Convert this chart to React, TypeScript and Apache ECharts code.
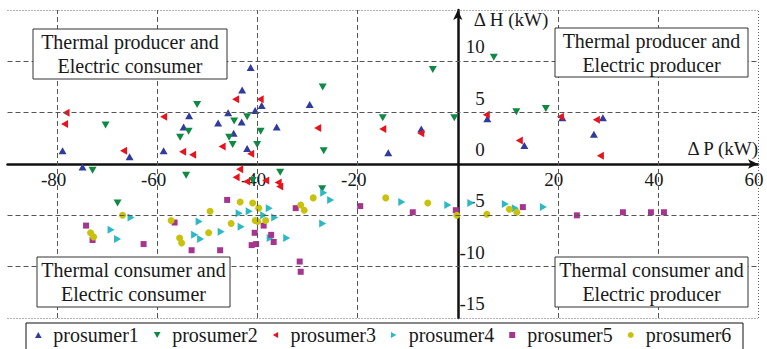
import React, { useEffect, useRef } from 'react';
import * as echarts from 'echarts';

const FONT = '"Liberation Serif", "Times New Roman", serif';
const TEXT_COLOR = '#1a1a1a';

const seriesNames = ['prosumer1', 'prosumer2', 'prosumer3', 'prosumer4', 'prosumer5', 'prosumer6'];

const prosumer1 = [
  [-79, 1.3], [-75, -0.3], [-65.6, 0.7], [-58.8, 1.3], [-54.8, 3.6], [-53.7, 4.7], [-47.9, 4.0], [-45.9, 5.0],
  [-44.8, 3.0], [-43.2, 4.1], [-43.1, 7.2], [-42.1, 1.5], [-41.4, 9.4], [-40.5, 5.2], [-39.2, 5.7], [-36.2, 3.6],
  [-29.6, 5.8], [-13.9, 1.1], [-7.3, 3.4], [5.9, 4.4], [13.3, 1.8], [20.9, 4.5], [27.2, 2.9], [29.0, 4.5],
];
const prosumer2 = [
  [-73, -0.6], [-70.4, 3.8], [-68, -3.8], [-55.5, 2.6], [-54.3, -1.1], [-53.8, 3.2], [-52.1, 5.8], [-45.7, 2.6],
  [-45.0, 1.9], [-44.7, 4.2], [-42.1, 4.6], [-41, -1.6], [-40.1, 1.9], [-39.4, 3.2], [-35.5, -0.8], [-27.1, -2.4],
  [-27.0, 7.5], [-26.8, 1.3], [-15.0, 4.5], [-5.0, 9.2], [-0.7, 4.5], [7.2, 10.4], [11.7, 5.1], [17.6, 5.4],
];
const prosumer3 = [
  [-78.6, 3.9], [-78.3, 5.0], [-66.8, 1.3], [-58.8, 4.6], [-55.0, 1.2], [-53.0, 0.9], [-47.1, 1.7], [-44.4, 6.3],
  [-44.3, -1.3], [-43.6, -0.5], [-42.2, -1.7], [-41.4, 1.0], [-39.5, 6.3], [-38.4, -1.6], [-35.9, -1.8], [-35.6, -2.2],
  [-28.0, 3.5], [-15.0, 3.4], [-7.4, 3.0], [5.7, 4.8], [12.3, 2.3], [20.5, 4.6], [27.7, 4.3], [28.5, 0.8],
];
const prosumer4 = [
  [-69.3, -6.4], [-68.0, -7.3], [-65.3, -5.2], [-52.6, -6.9], [-51.7, -5.6], [-51.4, -7.3], [-47.3, -6.6], [-43.7, -4.8],
  [-43.3, -6.1], [-41.7, -4.6], [-38.8, -5.0], [-37.7, -4.3], [-37.5, -7.2], [-36.6, -5.2], [-34.2, -7.2], [-27.0, -5.8],
  [-26.8, -2.8], [-25.4, -3.5], [-11.2, -3.7], [-2.0, -4.0], [2.6, -3.8], [9.5, -3.9], [11.5, -4.3], [17.1, -4.2],
];
const prosumer5 = [
  [-74.3, -6.0], [-73.0, -7.4], [-62.8, -7.8], [-56.6, -5.7], [-53.2, -8.4], [-47.5, -8.4], [-46.1, -3.5], [-41.2, -7.9],
  [-40.6, -6.7], [-40.3, -7.8], [-38.8, -6.0], [-37.3, -6.9], [-36.8, -7.6], [-32.4, -4.3], [-31.6, -9.5], [-31.4, -10.5],
  [-19.5, -4.1], [-9.0, -4.7], [-0.4, -4.5], [13.0, -4.2], [23.8, -5.0], [33.0, -4.7], [38.6, -4.7], [41.2, -4.7],
];
const prosumer6 = [
  [-73.4, -6.7], [-72.8, -7.1], [-67.0, -5.0], [-57.3, -5.5], [-55.6, -7.2], [-55.2, -7.7], [-49.8, -6.7], [-49.5, -4.6],
  [-45.3, -5.8], [-43.5, -3.7], [-41.0, -3.8], [-40.5, -5.5], [-40.0, -5.6], [-39.8, -4.3], [-38.4, -5.5], [-31.4, -4.0],
  [-30.7, -4.5], [-28.9, -3.3], [-14.4, -3.3], [-6.0, -3.8], [-0.2, -5.0], [5.8, -4.9], [10.3, -4.4], [11.8, -4.7],
];

const xMin = -90;
const xMax = 60;
const yMin = -15;
const yMax = 15;
const xGridValues = [-80, -60, -40, -20, 20, 40];
const yGridValues = [10, 5, -5, -10];

const quadrantTexts = [
  'Thermal producer and\nElectric consumer',
  'Thermal producer and\nElectric producer',
  'Thermal consumer and\nElectric consumer',
  'Thermal consumer and\nElectric producer',
];

const W = 767;
const H = 349;
const GRID = { left: 7.5, right: 9, top: 10, bottom: 31 };

export default function App() {
  const ref = useRef<HTMLDivElement>(null);

  useEffect(() => {
    if (!ref.current) return;
    const chart = echarts.init(ref.current, null, { renderer: 'svg' });

    const allData = [prosumer1, prosumer2, prosumer3, prosumer4, prosumer5, prosumer6];
    const symbols = [
      'path://M5,0L10,9L0,9Z',
      'path://M0,0L10,0L5,9Z',
      'path://M0,5L9,0L9,10Z',
      'path://M0,0L9,5L0,10Z',
      'path://M0,0L10,0L10,10L0,10Z',
      'circle',
    ];
    const sizes: any[] = [[8, 7], [8, 7], [7, 8], [7, 8], 6, 7];
    const colors = ['#2f3c9e', '#0f8a44', '#e8131d', '#2bb9c3', '#a5358f', '#c8c20c'];

    // place the axes through the origin (axis offsets from the grid edges)
    const gridW = W - GRID.left - GRID.right;
    const gridH = H - GRID.top - GRID.bottom;
    const yAxisOffset = -((0 - xMin) / (xMax - xMin)) * gridW;
    const xAxisOffset = -((0 - yMin) / (yMax - yMin)) * gridH;

    const boxes = [
      { x: 33, y: 29, w: 194, h: 50 },
      { x: 555, y: 28, w: 193, h: 49 },
      { x: 37, y: 257, w: 193, h: 50 },
      { x: 555, y: 257, w: 193, h: 50 },
    ];

    const gridLine = { color: '#555', width: 1, type: [5, 3] as any };
    const borderLine = { color: '#666', width: 1, type: [1, 2] as any };

    const option: any = {
      animation: false,
      backgroundColor: '#fff',
      textStyle: { fontFamily: FONT, color: TEXT_COLOR },
      grid: { ...GRID, containLabel: false },
      xAxis: {
        type: 'value',
        min: xMin,
        max: xMax,
        interval: 10,
        position: 'bottom',
        offset: xAxisOffset,
        axisLine: {
          onZero: false,
          lineStyle: { color: '#111', width: 2.5 },
          symbol: ['none', 'arrow'],
          symbolSize: [7, 10],
        },
        axisTick: { show: false },
        splitLine: { show: false },
        axisLabel: {
          formatter: (v: number) => (v % 20 === 0 && v !== 0 ? String(v) : ''),
          fontSize: 19,
          fontFamily: FONT,
          color: TEXT_COLOR,
          margin: 6,
          padding: [0, 8, 0, 0],
        },
        name: 'Δ P (kW)',
        nameLocation: 'end',
        nameGap: 0,
        nameTextStyle: {
          align: 'right',
          verticalAlign: 'bottom',
          fontSize: 19,
          fontFamily: FONT,
          color: TEXT_COLOR,
          padding: [0, 0, 6, 0],
        },
      },
      yAxis: {
        type: 'value',
        min: yMin,
        max: yMax,
        interval: 5,
        position: 'left',
        offset: yAxisOffset,
        axisLine: {
          onZero: false,
          lineStyle: { color: '#111', width: 2.5 },
          symbol: ['none', 'arrow'],
          symbolSize: [7, 10],
        },
        axisTick: { show: false },
        splitLine: { show: false },
        axisLabel: {
          inside: true,
          align: 'right',
          margin: 27,
          verticalAlign: 'bottom',
          padding: [0, 0, 5, 0],
          formatter: (v: number) => (v === yMax ? '' : String(v)),
          fontSize: 19,
          fontFamily: FONT,
          color: TEXT_COLOR,
        },
        name: 'Δ H (kW)',
        nameLocation: 'end',
        nameGap: 0,
        nameTextStyle: {
          align: 'left',
          verticalAlign: 'top',
          fontSize: 19,
          fontFamily: FONT,
          color: TEXT_COLOR,
          padding: [0, 0, 0, 16],
        },
      },
      legend: {
        data: seriesNames,
        left: 35,
        top: 324,
        padding: 0,
        itemWidth: 20,
        itemHeight: 6,
        itemGap: 15,
        z: 10,
        textStyle: { fontSize: 20, fontFamily: FONT, color: TEXT_COLOR, lineHeight: 22 },
      },
      graphic: [
        ...boxes.map((b, i) => ({
          type: 'group',
          x: b.x,
          y: b.y,
          z: 100,
          children: [
            {
              type: 'rect',
              z: 100,
              shape: { x: 0, y: 0, width: b.w, height: b.h },
              style: { fill: '#fff', stroke: '#333', lineWidth: 1 },
            },
            {
              type: 'text',
              z: 101,
              x: b.w / 2,
              y: b.h / 2,
              style: {
                text: quadrantTexts[i],
                fontSize: 20,
                fontFamily: FONT,
                fill: TEXT_COLOR,
                align: 'center',
                verticalAlign: 'middle',
                lineHeight: 24,
              },
            },
          ],
        })),
        {
          type: 'rect',
          z: 5,
          shape: { x: 26, y: 323, width: 717, height: 40 },
          style: { fill: '#fff', stroke: '#111', lineWidth: 1 },
        },
      ],
      series: [
        {
          type: 'scatter',
          name: 'grid',
          data: [],
          z: 1,
          silent: true,
          markLine: {
            silent: true,
            symbol: ['none', 'none'],
            label: { show: false },
            emphasis: { disabled: true },
            lineStyle: gridLine,
            data: [
              ...xGridValues.map((v) => ({ xAxis: v, lineStyle: gridLine })),
              ...yGridValues.map((v) => ({ yAxis: v, lineStyle: gridLine })),
              { yAxis: yMax, lineStyle: borderLine },
              { yAxis: yMin, lineStyle: borderLine },
              { xAxis: xMax, lineStyle: borderLine },
            ],
          },
        },
        ...allData.map((d, i) => ({
          type: 'scatter',
          name: seriesNames[i],
          data: d,
          symbol: symbols[i],
          symbolSize: sizes[i],
          itemStyle: { color: colors[i], opacity: 1 },
          z: 3,
        })),
      ],
    };

    chart.setOption(option);
    return () => chart.dispose();
  }, []);

  return (
    <div
      ref={ref}
      style={{ position: 'fixed', left: 0, top: 0, width: W, height: H, background: '#fff' }}
    />
  );
}
